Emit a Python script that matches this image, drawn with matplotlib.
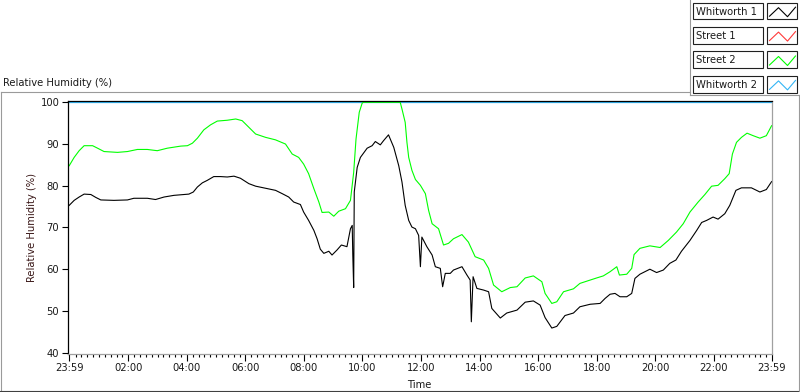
import numpy as np
import matplotlib
matplotlib.use("Agg")
import matplotlib.pyplot as plt
from matplotlib.patches import Rectangle
from matplotlib.lines import Line2D

W, H = 800, 392

# legend entries
names = ["Whitworth 1", "Street 1", "Street 2", "Whitworth 2"]
colors = ["#000000", "#ff3a3a", "#00ff00", "#33b5f5"]

# time axis (hours from midnight), starts and ends at 23:59
t_start = -1 / 60
t_end = 24 - 1 / 60
tick_hours = [t_start, 2, 4, 6, 8, 10, 12, 14, 16, 18, 20, 22, t_end]
tick_labels = ["23:59", "02:00", "04:00", "06:00", "08:00", "10:00", "12:00",
               "14:00", "16:00", "18:00", "20:00", "22:00", "23:59"]

# Whitworth 1 (black)
w1_t = [-0.02, 0.15, 0.32, 0.49, 0.72, 0.89, 1.06, 1.51, 1.97, 2.19, 2.65, 2.93,
        3.22, 3.56, 4.07, 4.22, 4.36, 4.53, 4.70, 4.92, 5.15, 5.38, 5.61, 5.83,
        6.12, 6.35, 6.69, 7.03, 7.26, 7.48, 7.65, 7.88, 7.99, 8.16, 8.34, 8.45,
        8.56, 8.68, 8.85, 8.96, 9.13, 9.28, 9.47, 9.59, 9.65, 9.67, 9.70, 9.72,
        9.82, 9.93, 10.16, 10.33, 10.44, 10.61, 10.72, 10.89, 11.07, 11.24, 11.35,
        11.46, 11.58, 11.69, 11.81, 11.92, 11.98, 12.03, 12.20, 12.38, 12.49, 12.66,
        12.74, 12.83, 13.00, 13.11, 13.40, 13.57, 13.68, 13.72, 13.78, 13.91, 14.14,
        14.31, 14.42, 14.71, 14.93, 15.28, 15.56, 15.84, 16.07, 16.24, 16.47, 16.64,
        16.92, 17.21, 17.43, 17.78, 18.12, 18.29, 18.46, 18.63, 18.80, 19.03, 19.20,
        19.31, 19.48, 19.82, 20.05, 20.28, 20.50, 20.71, 20.90, 21.19, 21.42, 21.59,
        21.76, 21.98, 22.15, 22.38, 22.55, 22.76, 22.95, 23.29, 23.58, 23.80, 23.98]
w1_rh = [75.3, 76.5, 77.3, 78.0, 77.9, 77.2, 76.6, 76.5, 76.6, 77.0, 77.0, 76.7,
         77.3, 77.7, 78.0, 78.5, 79.7, 80.7, 81.3, 82.2, 82.2, 82.1, 82.3, 81.8,
         80.5, 79.9, 79.4, 78.9, 78.1, 77.3, 76.1, 75.5, 73.7, 71.7, 69.3, 67.3,
         64.8, 63.8, 64.3, 63.4, 64.6, 65.8, 65.4, 69.7, 70.5, 63.4, 55.6, 78.5,
         84.4, 86.8, 89.0, 89.6, 90.6, 89.8, 90.8, 92.2, 89.2, 84.8, 80.9,
         75.3, 71.7, 70.1, 69.7, 68.1, 60.6, 67.7, 65.4, 63.4, 60.6, 60.2,
         55.8, 59.0, 59.0, 59.8, 60.6, 58.6, 57.4, 47.4, 58.2, 55.4, 55.0,
         54.6, 50.6, 48.3, 49.5, 50.2, 52.1, 52.4, 51.4, 48.4, 45.9, 46.3,
         48.9, 49.5, 51.0, 51.6, 51.8, 53.0, 54.0, 54.2, 53.4, 53.4, 54.2,
         57.8, 58.8, 60.0, 59.2, 59.8, 61.4, 62.2, 64.3, 66.9, 69.3, 71.2,
         71.7, 72.5, 72.0, 73.3, 75.3, 78.9, 79.5, 79.5, 78.5, 79.1, 81.0]

# Street 1 (red) - no trace visible on the chart
s1_t = []
s1_rh = []

# Street 2 (green)
s2_t = [-0.02, 0.15, 0.32, 0.49, 0.78, 0.95, 1.17, 1.63, 1.97, 2.31, 2.65, 2.99,
        3.33, 3.79, 4.02, 4.19, 4.36, 4.58, 4.81, 5.04, 5.38, 5.67, 5.89, 6.12,
        6.35, 6.69, 7.03, 7.37, 7.60, 7.82, 7.99, 8.16, 8.34, 8.51, 8.62, 8.85,
        9.02, 9.19, 9.42, 9.59, 9.70, 9.78, 9.89, 9.99, 10.03, 11.29, 11.35, 11.46,
        11.52, 11.58, 11.69, 11.81, 11.98, 12.15, 12.26, 12.38, 12.60, 12.77, 12.94,
        13.11, 13.40, 13.62, 13.85, 14.14, 14.31, 14.48, 14.76, 15.05, 15.28, 15.56,
        15.84, 16.13, 16.24, 16.47, 16.64, 16.87, 17.21, 17.43, 17.78, 18.00, 18.23,
        18.46, 18.69, 18.78, 19.03, 19.20, 19.28, 19.48, 19.82, 20.17, 20.45, 20.73,
        20.96, 21.19, 21.47, 21.70, 21.93, 22.15, 22.38, 22.53, 22.64, 22.78, 22.95,
        23.14, 23.35, 23.58, 23.80, 23.98]
s2_rh = [84.8, 86.8, 88.4, 89.6, 89.6, 89.0, 88.2, 88.0, 88.2, 88.7, 88.7, 88.4,
         89.0, 89.5, 89.6, 90.2, 91.4, 93.4, 94.6, 95.5, 95.7, 96.0, 95.6, 94.0,
         92.4, 91.6, 91.0, 90.0, 87.6, 86.8, 85.2, 82.9, 79.3, 76.1, 73.6, 73.7,
         72.7, 73.9, 74.5, 76.5, 83.2, 91.2, 97.6, 99.8, 100.0, 100.0, 98.4, 95.2,
         90.4, 86.8, 83.7, 81.5, 80.1, 78.1, 74.1, 70.9, 69.7, 65.8, 66.2,
         67.3, 68.3, 66.5, 63.0, 62.2, 60.2, 56.2, 54.6, 55.6, 55.8, 57.9,
         58.4, 57.0, 54.2, 51.8, 52.2, 54.6, 55.3, 56.6, 57.4, 57.9, 58.4,
         59.4, 60.6, 58.6, 58.8, 60.2, 63.5, 65.0, 65.6, 65.2, 66.9, 68.9,
         70.9, 73.7, 76.1, 77.9, 79.9, 80.1, 81.7, 82.9, 87.6, 90.4, 91.6,
         92.6, 92.0, 91.4, 92.0, 94.4]

# Whitworth 2 (blue) - pinned at the top of the scale
w2_t = [t_start, t_end]
w2_rh = [100.0, 100.0]


def fx(x):
    return x / W


def fy(y):
    return 1 - y / H


plt.rcParams['font.family'] = ['DejaVu Sans']
fs = 7.2
txt = "#1a1a1a"

fig = plt.figure(figsize=(8, 3.92), dpi=100)
fig.patch.set_facecolor("white")

# graph frame
frame = "#9a9a9a"
fig.add_artist(Line2D([fx(0.5), fx(690)], [fy(91.5), fy(91.5)], color=frame, lw=0.8))
fig.add_artist(Line2D([fx(0.5), fx(0.5)], [fy(91.5), fy(391)], color=frame, lw=0.8))
fig.add_artist(Line2D([fx(0), fx(800)], [fy(391), fy(391)], color="#404040", lw=0.8))
fig.add_artist(Line2D([fx(799), fx(799)], [fy(95), fy(391)], color=frame, lw=0.8))
fig.add_artist(Line2D([fx(690), fx(690)], [fy(0), fy(95)], color=frame, lw=0.8))
fig.add_artist(Line2D([fx(690), fx(800)], [fy(95), fy(95)], color=frame, lw=0.8))

fig.text(fx(3), fy(82.5), "Relative Humidity (%)", fontsize=fs, color=txt,
         ha="left", va="center")

ax = fig.add_axes([fx(68.3), fy(353.5), fx(772.3) - fx(68.3), fy(101.3) - fy(353.5)])
ax.plot(w2_t, w2_rh, color=colors[3], lw=0.9)
ax.plot(s1_t, s1_rh, color=colors[1], lw=0.8)
ax.plot(s2_t, s2_rh, color=colors[2], lw=0.8)
ax.plot(w1_t, w1_rh, color=colors[0], lw=0.8)

ax.set_xlim(t_start - 0.034, t_end + 0.02)
ax.set_ylim(39.8, 100.24)
ax.set_yticks([40, 50, 60, 70, 80, 90, 100])
ax.set_xticks(tick_hours)
ax.set_xticklabels(tick_labels)
ax.set_xticks(np.arange(0.2, 24, 0.2), minor=True)

for side in ["left", "top"]:
    ax.spines[side].set_color("black")
    ax.spines[side].set_linewidth(0.9)
for side in ["right", "bottom"]:
    ax.spines[side].set_color("#a0a0a0")
    ax.spines[side].set_linewidth(0.9)

ax.tick_params(axis="y", length=4, width=0.8, pad=2.5, labelsize=fs, labelcolor=txt)
ax.tick_params(axis="x", which="major", length=5, width=0.8, pad=2,
               labelsize=fs, labelcolor=txt)
ax.tick_params(axis="x", which="minor", length=2.5, width=0.8)

fig.text(fx(419), fy(384.5), "Time", fontsize=fs, color=txt, ha="center", va="center")
fig.text(fx(32), fy(227), "Relative Humidity (%)", fontsize=fs, color="#3a1818",
         ha="center", va="center", rotation=90)

# legend boxes drawn by hand, LabVIEW style
for i, (name, col) in enumerate(zip(names, colors)):
    top = 2.7 + 24.4 * i
    h = 16.7
    fig.add_artist(Rectangle((fx(692.7), fy(top + h)), fx(70), h / H,
                             facecolor="white", edgecolor="#202020", lw=0.8))
    fig.add_artist(Rectangle((fx(766.7), fy(top + h)), fx(30), h / H,
                             facecolor="white", edgecolor="#202020", lw=0.8))
    fig.text(fx(695.5), fy(top + h / 2 + 0.5), name, fontsize=fs, color=txt,
             ha="left", va="center")
    zx = [769.5, 778.5, 787.5, 795.5]
    zy = [top + 13.5, top + 5, top + 14, top + 4.5]
    fig.add_artist(Line2D([fx(v) for v in zx], [fy(v) for v in zy], color=col, lw=0.8))

fig.savefig("out.png", dpi=100, facecolor="white")
